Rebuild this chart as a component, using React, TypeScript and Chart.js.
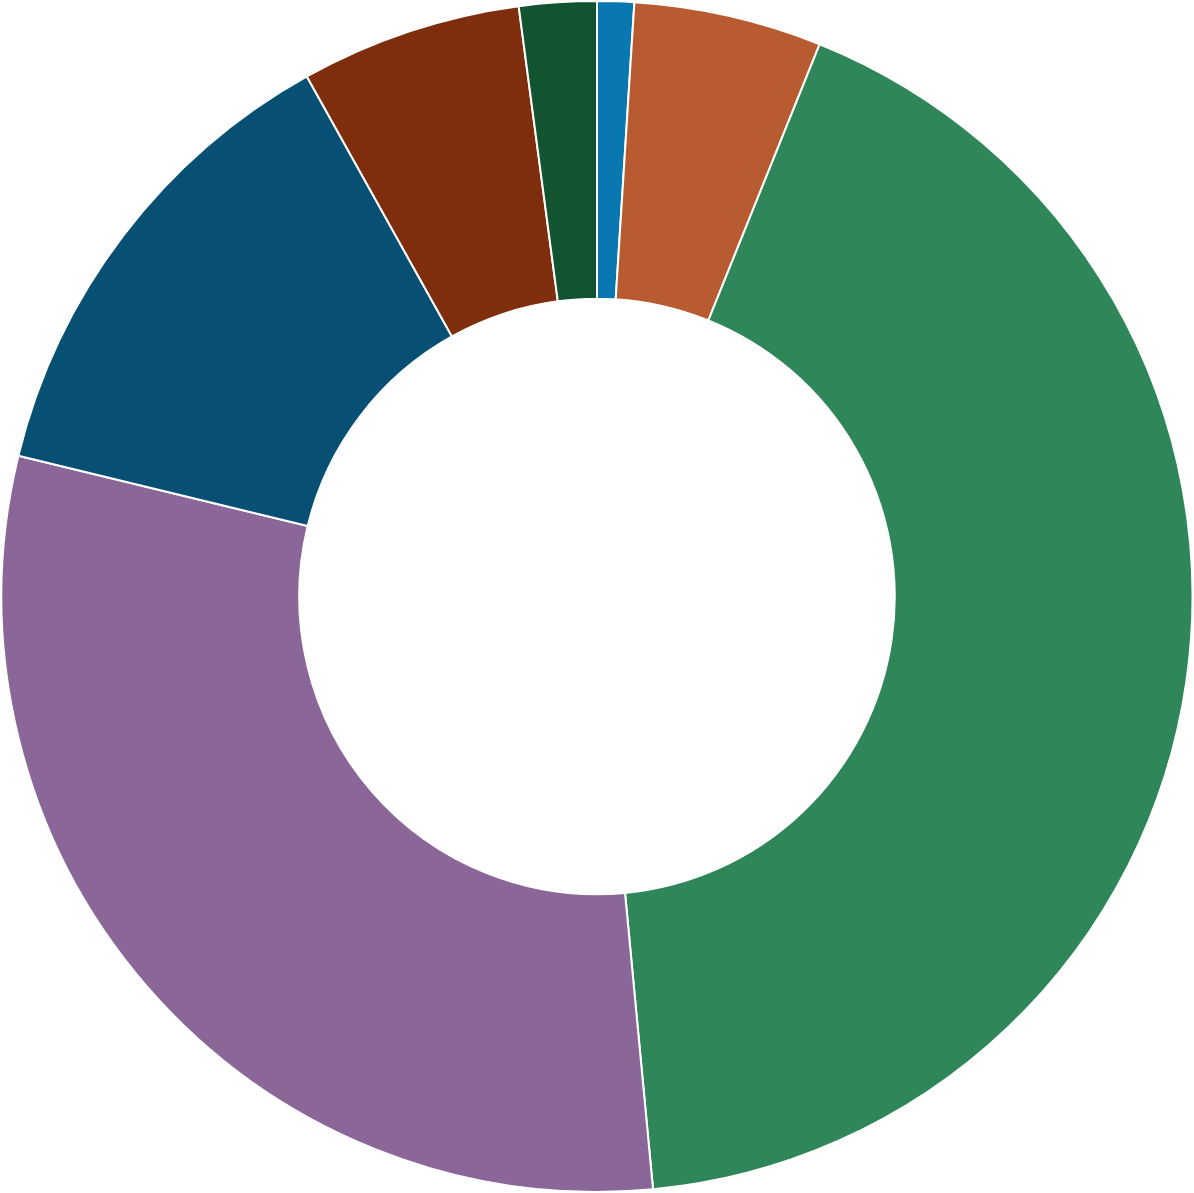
import React, { useEffect, useRef } from "react";
import { Chart, registerables } from "chart.js";

Chart.register(...registerables);

const categories = ["A", "B", "C", "D", "E", "F", "G"];
const values = [1.0, 5.1, 42.4, 30.3, 13.1, 6.0, 2.1];
const colors = ["#0a78b0", "#b85b30", "#2f8759", "#8a6699", "#075074", "#7f2e0d", "#125330"];

export default function App() {
  const ref = useRef<HTMLCanvasElement>(null);
  useEffect(() => {
    document.body.style.margin = "0";
    const chart = new Chart(ref.current!, {
      type: "doughnut",
      data: {
        labels: categories,
        datasets: [
          {
            data: values,
            backgroundColor: colors,
            borderColor: "#ffffff",
            borderWidth: 2,
          },
        ],
      },
      options: {
        animation: false,
        responsive: true,
        maintainAspectRatio: false,
        cutout: "50%",
        plugins: { legend: { display: false }, tooltip: { enabled: false } },
        layout: { padding: 0 },
      },
    });
    return () => chart.destroy();
  }, []);
  return (
    <div style={{ width: 1194, height: 1193, position: "relative" }}>
      <canvas ref={ref} />
    </div>
  );
}
